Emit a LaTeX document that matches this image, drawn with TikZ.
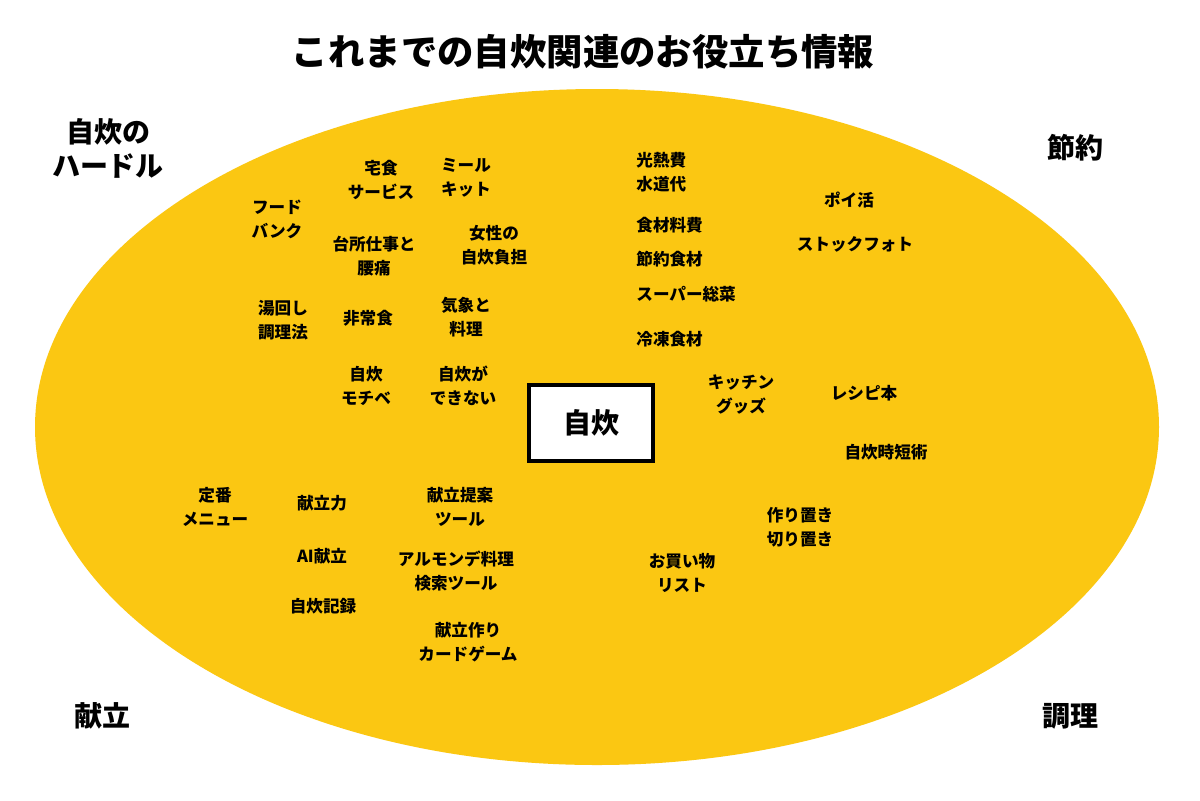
\documentclass[tikz,border=0pt]{standalone}
\usepackage{fontspec}
\newfontfamily\jp{Noto Sans CJK JP}[BoldFont={Noto Sans CJK JP Black}]
\definecolor{ellyellow}{RGB}{251,199,18}
\begin{document}
\begin{tikzpicture}[x=0.5pt,y=-0.5pt,
  lbl/.style={font=\jp\bfseries\fontsize{8.3}{12}\selectfont, align=center, inner sep=0pt},
  lbll/.style={lbl, align=left, anchor=west},
  corner/.style={font=\jp\bfseries\fontsize{14}{17}\selectfont, align=center, inner sep=0pt},
  ttl/.style={font=\jp\bfseries\fontsize{18.2}{20}\selectfont, inner sep=0pt},
  centerbox/.style={draw=black, line width=2pt, fill=white, minimum width=62pt, minimum height=38pt, font=\jp\bfseries\fontsize{14}{17}\selectfont}]
\useasboundingbox (0,0) rectangle (1200,800);
\fill[white] (0,0) rectangle (1200,800);
\fill[ellyellow] (597,427) ellipse [x radius=562, y radius=338];
\node[ttl] (title) at (583,52) {これまでの自炊関連のお役立ち情報};
\node[corner] (c1) at (108,148) {自炊の\\ハードル};
\node[corner] (c2) at (1075,148) {節約};
\node[corner] (c3) at (103,716) {献立};
\node[corner] (c4) at (1070,716) {調理};
\node[centerbox] (center) at (591,423) {自炊};
% upper left
\node[lbl] (a1) at (381,180) {宅食\\サービス};
\node[lbl] (a2) at (466,178) {ミール\\キット};
\node[lbl] (a3) at (277,219) {フード\\バンク};
\node[lbl] (a4) at (374,256) {台所仕事と\\腰痛};
\node[lbl] (a5) at (494,245) {女性の\\自炊負担};
\node[lbl] (a6) at (283,320) {湯回し\\調理法};
\node[lbl] (a7) at (368,318) {非常食};
\node[lbl] (a8) at (466,317) {気象と\\料理};
\node[lbl] (a9) at (366,386) {自炊\\モチベ};
\node[lbl] (a10) at (463,386) {自炊が\\できない};
% upper right
\node[lbll] (b1) at (636,172) {光熱費\\水道代};
\node[lbll] (b2) at (636,225) {食材料費};
\node[lbll] (b3) at (636,259) {節約食材};
\node[lbll] (b4) at (636,294) {スーパー総菜};
\node[lbll] (b5) at (636,339) {冷凍食材};
\node[lbl] (b6) at (849,200) {ポイ活};
\node[lbl] (b7) at (855,244) {ストックフォト};
% right
\node[lbl] (d1) at (741,395) {キッチン\\グッズ};
\node[lbl] (d2) at (864,393) {レシピ本};
\node[lbl] (d3) at (886,452) {自炊時短術};
\node[lbl] (d4) at (800,527) {作り置き\\切り置き};
\node[lbl] (d5) at (682,573) {お買い物\\リスト};
% lower left
\node[lbl] (e1) at (215,507) {定番\\メニュー};
\node[lbl] (e2) at (322,503) {献立力};
\node[lbl] (e3) at (460,507) {献立提案\\ツール};
\node[lbl] (e4) at (322,556) {AI献立};
\node[lbl] (e5) at (456,571) {アルモンデ料理\\検索ツール};
\node[lbl] (e6) at (323,606) {自炊記録};
\node[lbl] (e7) at (468,642) {献立作り\\カードゲーム};
\end{tikzpicture}
\end{document}
